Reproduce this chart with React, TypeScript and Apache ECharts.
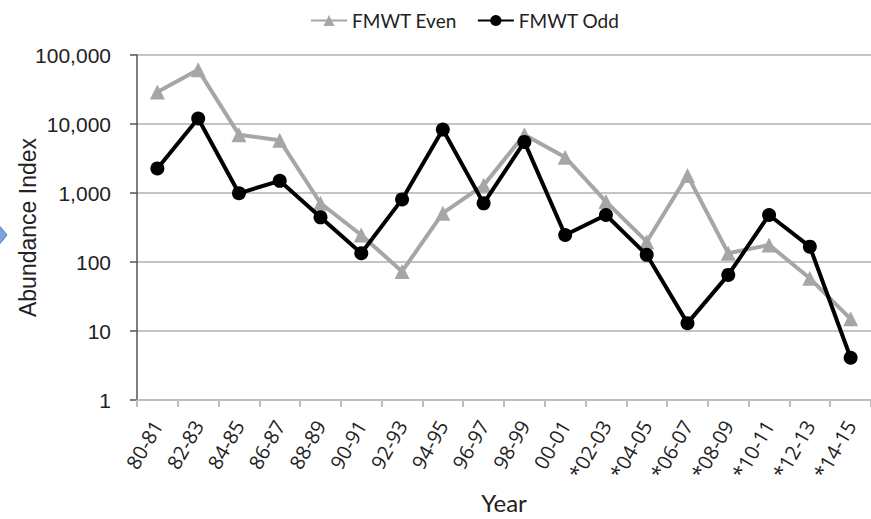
import React, { useEffect, useRef } from "react";
import * as echarts from "echarts";

const categories = ["80-81", "82-83", "84-85", "86-87", "88-89", "90-91", "92-93", "94-95", "96-97", "98-99", "00-01", "*02-03", "*04-05", "*06-07", "*08-09", "*10-11", "*12-13", "*14-15"];
const evenValues = [29000, 61000, 7000, 5800, 710, 246, 73, 510, 1300, 7000, 3300, 750, 197, 1800, 134, 177, 58, 15];
const oddValues = [2270, 12000, 990, 1500, 444, 134, 808, 8300, 708, 5500, 246, 480, 127, 13, 65, 480, 167, 4.1];
const seriesNames = ["FMWT Even", "FMWT Odd"];

export default function App() {
  const ref = useRef<HTMLDivElement>(null);
  useEffect(() => {
    if (!ref.current) return;
    const chart = echarts.init(ref.current, null, { renderer: "svg" });
    const latin = "Lato, 'Liberation Sans', sans-serif";
    const open = "'Open Sans', 'Liberation Sans', sans-serif";
    const arial = "'Liberation Sans', Arial, sans-serif";
    chart.setOption({
      animation: false,
      backgroundColor: "#ffffff",
      legend: {
        left: 305,
        top: 6,
        itemWidth: 36,
        itemHeight: 14,
        itemGap: 20,
        textStyle: { fontFamily: latin, fontSize: 19, color: "#222" },
        data: seriesNames,
      },
      grid: { left: 137, top: 55, right: -3, bottom: 119, containLabel: false },
      xAxis: {
        type: "category",
        data: categories,
        boundaryGap: true,
        name: "Year",
        nameLocation: "middle",
        nameGap: 90,
        nameMoveOverlap: false,
        nameTextStyle: { fontFamily: latin, fontSize: 24, color: "#222" },
        axisLine: { lineStyle: { color: "#bdbdbd", width: 2 } },
        axisTick: { show: true, length: 7, lineStyle: { color: "#bdbdbd", width: 2 } },
        axisLabel: { rotate: 60, margin: 22, fontFamily: open, fontSize: 20, color: "#222", interval: 0 },
        splitLine: { show: false },
      },
      yAxis: {
        type: "log",
        logBase: 10,
        min: 1,
        max: 100000,
        name: "Abundance Index",
        nameLocation: "middle",
        nameRotate: 90,
        nameGap: 98,
        nameMoveOverlap: false,
        nameTextStyle: { fontFamily: arial, fontSize: 23, color: "#222" },
        axisLine: { show: true, lineStyle: { color: "#555", width: 1.5 } },
        axisTick: { show: true, inside: false, length: 7, lineStyle: { color: "#555", width: 1.5 } },
        axisLabel: {
          margin: 26,
          fontFamily: arial,
          fontSize: 21,
          color: "#222",
          formatter: (v: number) => Math.round(v).toLocaleString("en-US"),
        },
        splitLine: { show: true, lineStyle: { color: "#c4c4c4", width: 2 } },
      },
      series: [
        {
          name: seriesNames[0],
          type: "line",
          data: evenValues,
          symbol: "triangle",
          symbolSize: 15,
          lineStyle: { color: "#a6a6a6", width: 4 },
          itemStyle: { color: "#a6a6a6" },
          z: 2,
        },
        {
          name: seriesNames[1],
          type: "line",
          data: oddValues,
          symbol: "circle",
          symbolSize: 14,
          lineStyle: { color: "#000000", width: 4 },
          itemStyle: { color: "#000000" },
          z: 3,
        },
      ],
      graphic: [
        {
          type: "polygon",
          shape: { points: [[-2, 224], [7, 235], [-2, 246]] },
          style: { fill: "#79a5dc", stroke: "#4a7ebb", lineWidth: 1 },
        },
      ],
    });
    return () => chart.dispose();
  }, []);
  return <div ref={ref} style={{ position: "fixed", left: 0, top: 0, width: 871, height: 519 }} />;
}
